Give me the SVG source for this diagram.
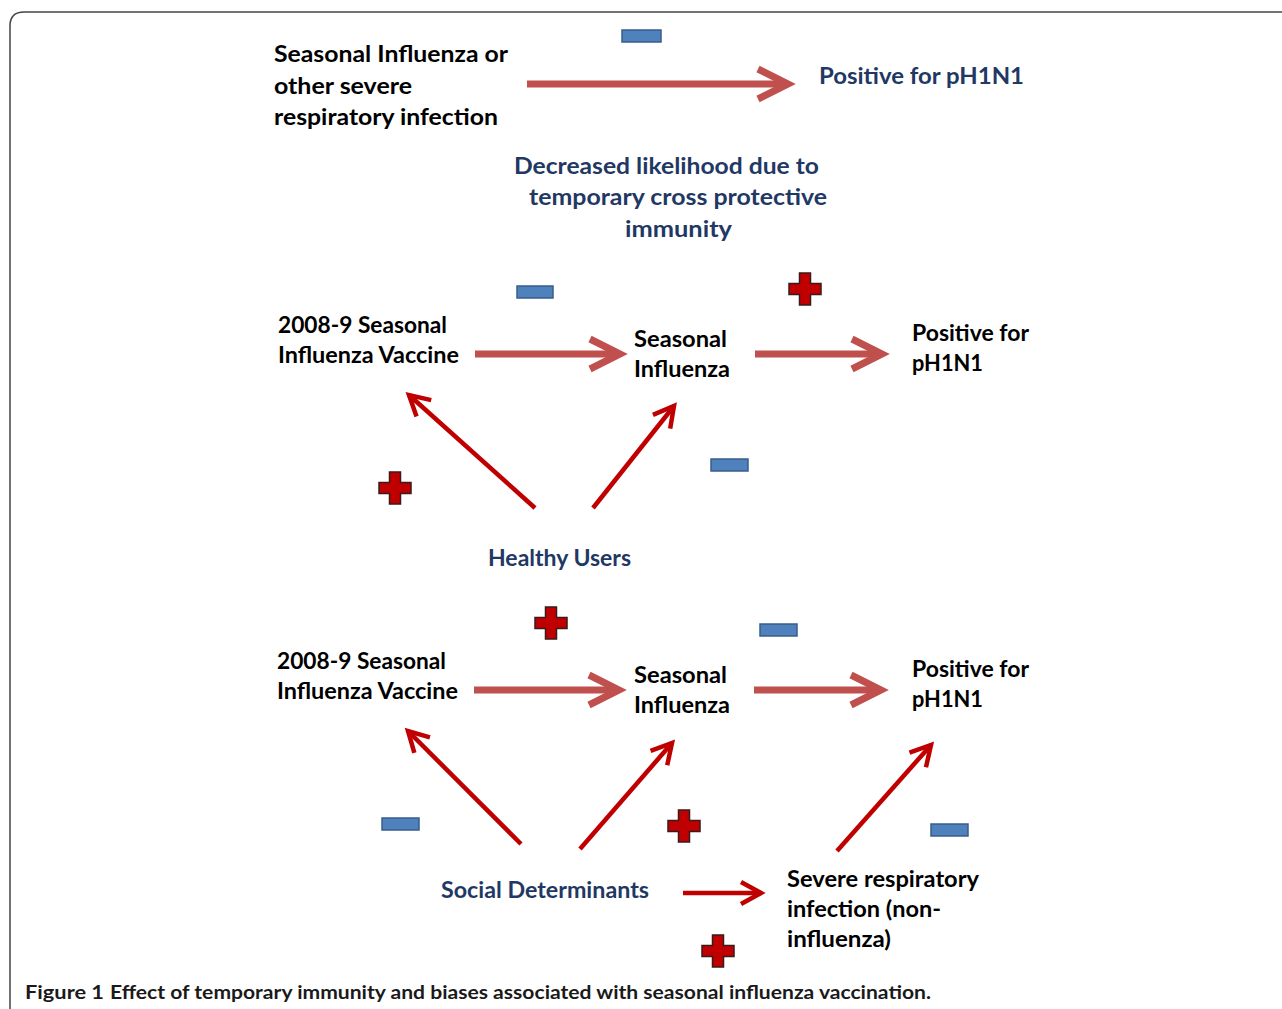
<svg xmlns="http://www.w3.org/2000/svg" width="1282" height="1009" viewBox="0 0 1282 1009">
<defs>
<style>
.t{font-family:Lato,"Open Sans",sans-serif;font-weight:bold;font-size:22px;fill:#000}
.n{fill:#1f3864}
.cap{font-family:Lato,"Open Sans",sans-serif;font-size:19px;fill:#1a1a1a;font-weight:bold}
.thick{stroke:#c0504d;stroke-width:7;fill:none}
.thin{stroke:#c00000;stroke-width:4.5;fill:none}
.minus{fill:#4f81bd;stroke:#385d8a;stroke-width:1.5}
.plus{fill:#c00000;stroke:#3a1a1a;stroke-width:1.5}
</style>
<marker id="ha" markerUnits="userSpaceOnUse" orient="auto" refX="0" refY="0" overflow="visible">
<path d="M-30,-15 L0,0 L-30,15" fill="none" stroke="#c0504d" stroke-width="7" stroke-linejoin="miter"/>
</marker>
<marker id="hb" markerUnits="userSpaceOnUse" orient="auto" refX="0" refY="0" overflow="visible">
<path d="M-20,-11 L0,0 L-20,11" fill="none" stroke="#c00000" stroke-width="4.5" stroke-linejoin="miter"/>
</marker>
<path id="plusShape" d="M-5.5,-16 h11 v10.5 h10.5 v11 h-10.5 v10.5 h-11 v-10.5 h-10.5 v-11 h10.5 z"/>
</defs>
<rect width="1282" height="1009" fill="#fff"/>
<path d="M10,1009 V26 Q10,12 24,12 H1290" fill="none" stroke="#444" stroke-width="1.5"/>

<g id="connectors">
<line class="thick" x1="527" y1="84" x2="788" y2="84" marker-end="url(#ha)"/>
<line class="thick" x1="475" y1="354" x2="620" y2="354" marker-end="url(#ha)"/>
<line class="thick" x1="755" y1="354" x2="882" y2="354" marker-end="url(#ha)"/>
<line class="thick" x1="474" y1="690" x2="619" y2="690" marker-end="url(#ha)"/>
<line class="thick" x1="754" y1="690" x2="881" y2="690" marker-end="url(#ha)"/>
<line class="thin" x1="535" y1="508" x2="409" y2="395" marker-end="url(#hb)"/>
<line class="thin" x1="593" y1="508" x2="674" y2="406" marker-end="url(#hb)"/>
<line class="thin" x1="521" y1="844" x2="408" y2="731" marker-end="url(#hb)"/>
<line class="thin" x1="580" y1="849" x2="672" y2="743" marker-end="url(#hb)"/>
<line class="thin" x1="837" y1="851" x2="931" y2="745" marker-end="url(#hb)"/>
<line class="thin" x1="683" y1="893" x2="761" y2="893" marker-end="url(#hb)"/>
</g>

<g id="signs">
<rect class="minus" x="622" y="30" width="39" height="12"/>
<rect class="minus" x="517" y="286" width="36" height="12"/>
<use href="#plusShape" class="plus" x="805" y="289"/>
<use href="#plusShape" class="plus" x="395" y="488"/>
<rect class="minus" x="711" y="459" width="37" height="12"/>
<use href="#plusShape" class="plus" x="551" y="623"/>
<rect class="minus" x="760" y="624" width="37" height="12"/>
<rect class="minus" x="382" y="818" width="37" height="12"/>
<use href="#plusShape" class="plus" x="684" y="826"/>
<rect class="minus" x="931" y="824" width="37" height="12"/>
<use href="#plusShape" class="plus" x="718" y="951"/>
</g>

<g id="node-seasonal-top">
<text class="t" x="274" y="62" textLength="234" lengthAdjust="spacingAndGlyphs">Seasonal Influenza or</text>
<text class="t" x="274" y="94" textLength="138" lengthAdjust="spacingAndGlyphs">other severe</text>
<text class="t" x="274" y="125" textLength="224" lengthAdjust="spacingAndGlyphs">respiratory infection</text>
</g>
<g id="node-positive-top">
<text class="t n" x="819" y="84" textLength="205" lengthAdjust="spacingAndGlyphs">Positive for pH1N1</text>
</g>
<g id="label-decreased">
<text class="t n" x="514" y="174" textLength="305" lengthAdjust="spacingAndGlyphs">Decreased likelihood due to</text>
<text class="t n" x="529" y="205" textLength="298" lengthAdjust="spacingAndGlyphs">temporary cross protective</text>
<text class="t n" x="625" y="237" textLength="107" lengthAdjust="spacingAndGlyphs">immunity</text>
</g>

<g id="node-vaccine-1">
<text class="t" x="278" y="333" textLength="169" lengthAdjust="spacingAndGlyphs">2008-9 Seasonal</text>
<text class="t" x="278" y="363" textLength="181" lengthAdjust="spacingAndGlyphs">Influenza Vaccine</text>
</g>
<g id="node-flu-1">
<text class="t" x="634" y="347" textLength="93" lengthAdjust="spacingAndGlyphs">Seasonal</text>
<text class="t" x="634" y="377" textLength="96" lengthAdjust="spacingAndGlyphs">Influenza</text>
</g>
<g id="node-positive-1">
<text class="t" x="912" y="341" textLength="117" lengthAdjust="spacingAndGlyphs">Positive for</text>
<text class="t" x="912" y="371" textLength="71" lengthAdjust="spacingAndGlyphs">pH1N1</text>
</g>
<g id="node-healthy">
<text class="t n" x="488" y="566" textLength="143" lengthAdjust="spacingAndGlyphs">Healthy Users</text>
</g>

<g id="node-vaccine-2">
<text class="t" x="277" y="669" textLength="169" lengthAdjust="spacingAndGlyphs">2008-9 Seasonal</text>
<text class="t" x="277" y="699" textLength="181" lengthAdjust="spacingAndGlyphs">Influenza Vaccine</text>
</g>
<g id="node-flu-2">
<text class="t" x="634" y="683" textLength="93" lengthAdjust="spacingAndGlyphs">Seasonal</text>
<text class="t" x="634" y="713" textLength="96" lengthAdjust="spacingAndGlyphs">Influenza</text>
</g>
<g id="node-positive-2">
<text class="t" x="912" y="677" textLength="117" lengthAdjust="spacingAndGlyphs">Positive for</text>
<text class="t" x="912" y="707" textLength="71" lengthAdjust="spacingAndGlyphs">pH1N1</text>
</g>
<g id="node-social">
<text class="t n" x="441" y="898" textLength="208" lengthAdjust="spacingAndGlyphs">Social Determinants</text>
</g>
<g id="node-severe">
<text class="t" x="787" y="887" textLength="192" lengthAdjust="spacingAndGlyphs">Severe respiratory</text>
<text class="t" x="787" y="917" textLength="154" lengthAdjust="spacingAndGlyphs">infection (non-</text>
<text class="t" x="787" y="947" textLength="104" lengthAdjust="spacingAndGlyphs">influenza)</text>
</g>

<g id="caption">
<text class="cap" x="25" y="999" textLength="79" lengthAdjust="spacingAndGlyphs" fill="#000">Figure 1</text>
<text class="cap" x="110" y="999" textLength="821" lengthAdjust="spacingAndGlyphs" font-weight="600">Effect of temporary immunity and biases associated with seasonal influenza vaccination.</text>
</g>
</svg>
